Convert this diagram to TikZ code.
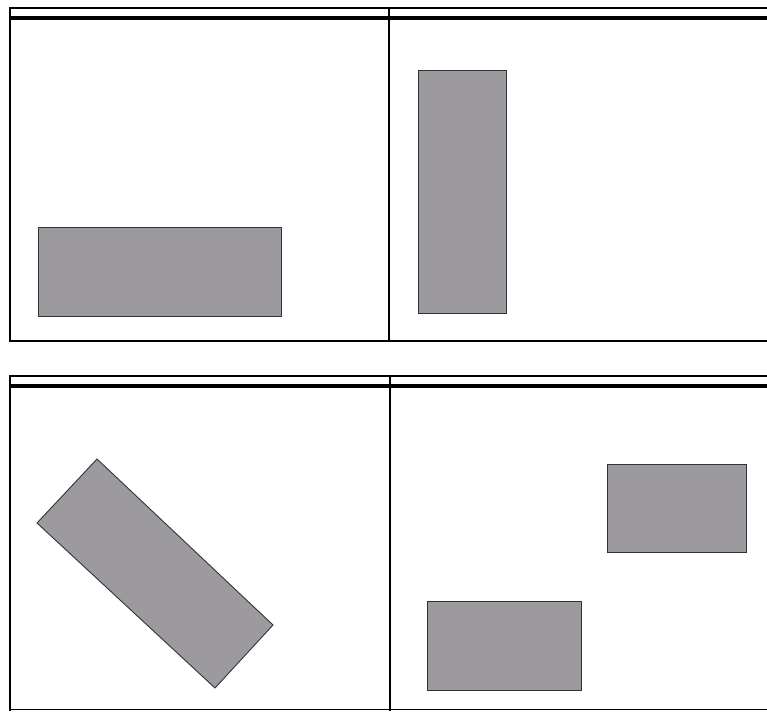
\documentclass[tikz,border=0pt]{standalone}
\definecolor{boxgray}{RGB}{156,154,158}
\tikzset{
  frame/.style={line width=2.8pt, black},
  headline/.style={line width=3.4pt, black},
  thinframe/.style={line width=1.8pt, black},
  block/.style={fill=boxgray, draw=black!80, line width=0.9pt},
}
\begin{document}
\begin{tikzpicture}[x=1pt,y=-1pt]
\useasboundingbox (0,0) rectangle (767,711);
% top panel
\draw[thinframe] (10,8) -- (767,8);
\draw[headline] (10,18) -- (767,18);
\draw[frame] (10,7) -- (10,342);
\draw[frame] (10,341) -- (767,341);
\draw[frame] (389,7) -- (389,341);
% bottom panel
\draw[thinframe] (10,376) -- (767,376);
\draw[headline] (10,386) -- (767,386);
\draw[frame] (10,375) -- (10,711);
\draw[thinframe] (10,709.5) -- (767,709.5);
\draw[frame] (390,375) -- (390,711);
% blocks
\draw[block] (38,227) rectangle (281,316);
\draw[block] (418,70) rectangle (506,313);
\draw[block] (97,459) -- (273,625) -- (215,688) -- (37,523) -- cycle;
\draw[block] (607,464) rectangle (746,552);
\draw[block] (427,601) rectangle (581,690);
\end{tikzpicture}
\end{document}
